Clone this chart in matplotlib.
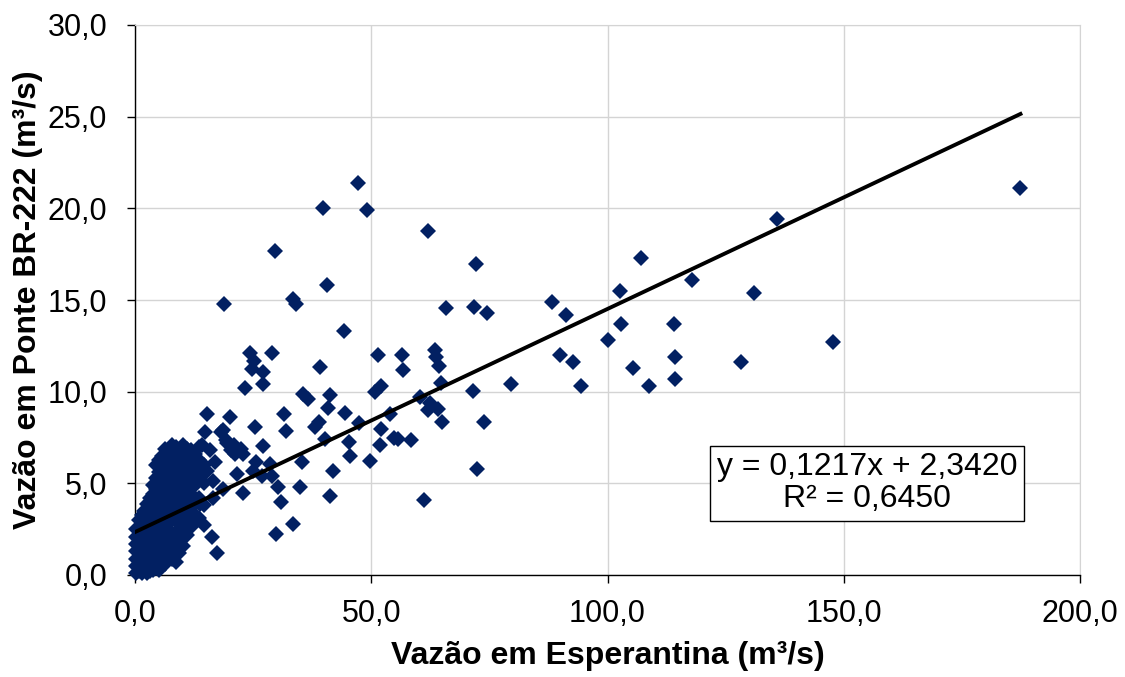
import matplotlib
matplotlib.use('Agg')
import matplotlib.pyplot as plt
import numpy as np

plt.rcParams['font.family'] = ['Liberation Sans', 'DejaVu Sans']

# vazões (m³/s): (Esperantina, Ponte BR-222)
pontos_altos = [
    (187.4, 21.1), (135.8, 19.4), (107.0, 17.3), (117.8, 16.1), (102.6, 15.5),
    (131.0, 15.4), (88.3, 14.9), (91.2, 14.2), (102.9, 13.7), (114.1, 13.7),
    (100.2, 12.8), (147.8, 12.7), (89.9, 12.0), (92.8, 11.6), (114.3, 11.9),
    (105.4, 11.3), (128.2, 11.6), (79.5, 10.4), (94.4, 10.3), (108.7, 10.3),
    (114.3, 10.7),
]

pontos_medios = [
    (47.3, 21.4), (39.8, 20.0), (49.2, 19.9), (62.1, 18.75), (29.7, 17.65),
    (72.2, 16.95), (40.7, 15.8), (18.9, 14.8), (33.4, 15.05), (34.1, 14.8),
    (65.9, 14.55), (71.8, 14.6), (74.4, 14.3), (44.3, 13.3), (24.4, 12.1),
    (25.2, 11.7), (24.7, 11.25), (27.1, 11.05), (27.1, 10.4), (29.1, 12.1),
    (23.3, 10.2), (39.1, 11.35), (51.5, 12.0), (56.6, 12.0), (56.8, 11.2),
    (63.4, 12.3), (63.6, 11.9), (64.3, 11.4), (64.8, 10.5), (71.5, 10.05),
    (50.7, 10.0), (52.0, 10.3), (35.5, 9.85), (36.6, 9.6), (41.2, 9.8),
    (60.3, 9.7), (62.5, 9.4), (62.1, 9.0), (64.2, 9.05), (20.2, 8.6),
    (31.6, 8.8), (40.9, 9.1), (44.5, 8.85), (54.0, 8.8), (25.3, 8.1),
    (32.0, 7.85), (38.1, 8.1), (38.9, 8.35), (47.5, 8.3), (52.0, 7.95),
    (64.9, 8.35), (73.8, 8.35), (54.9, 7.5), (55.6, 7.4), (58.5, 7.35),
    (40.2, 7.4), (45.3, 7.25), (51.8, 7.1), (27.1, 7.05), (18.6, 7.9),
    (19.3, 7.35), (22.5, 6.85), (72.4, 5.8), (61.1, 4.1),
]

pontos_baixos = [
    (15.2, 8.8), (14.8, 7.8), (18.1, 7.8), (45.5, 6.5), (49.7, 6.2),
    (41.9, 5.7), (35.3, 6.15), (22.9, 6.6), (19.4, 7.2), (20.4, 6.8),
    (21.2, 6.6), (20.9, 7.1), (25.7, 6.15), (28.6, 6.05), (25.0, 5.7),
    (21.5, 5.5), (26.8, 5.4), (28.9, 5.4), (30.3, 4.8), (34.9, 4.8),
    (41.3, 4.3), (22.9, 4.5), (31.0, 4.0), (33.5, 2.8), (29.8, 2.25),
    (16.6, 5.15), (18.7, 4.7), (16.2, 2.1), (17.3, 1.2), (14.5, 2.75),
    (14.1, 7.1), (15.9, 6.8), (17.0, 6.15), (15.3, 5.7), (16.6, 4.2),
    (13.75, 3.9),
]

# nuvem densa perto da origem: vazão em Esperantina -> vazões em Ponte BR-222
nuvem_x = [0.3, 0.8, 1.4, 2.0, 2.6, 3.2, 3.8, 4.4, 5.0, 5.7, 6.4,
           7.1, 7.8, 8.6, 9.4, 10.2, 11.0, 11.9, 12.8, 13.6, 14.5]
nuvem_y = [
    [0.1, 0.5, 0.9, 1.3, 1.7, 2.1, 2.5],
    [0.2, 0.6, 1.0, 1.4, 1.8, 2.2, 2.6, 3.0],
    [0.1, 0.5, 0.9, 1.3, 1.7, 2.1, 2.5, 2.9, 3.3],
    [0.3, 0.7, 1.1, 1.5, 1.9, 2.3, 2.7, 3.1, 3.5],
    [0.1, 0.5, 0.9, 1.3, 1.7, 2.1, 2.5, 2.9, 3.4, 3.9],
    [0.2, 0.6, 1.0, 1.4, 1.8, 2.2, 2.7, 3.2, 3.7, 4.2],
    [0.3, 0.8, 1.3, 1.8, 2.3, 2.8, 3.3, 3.8, 4.4, 4.9],
    [0.4, 0.9, 1.4, 1.9, 2.4, 2.9, 3.5, 4.1, 4.7, 5.3, 6.0],
    [0.3, 0.8, 1.4, 2.0, 2.6, 3.2, 3.8, 4.4, 5.0, 5.6, 6.3],
    [0.5, 1.1, 1.7, 2.3, 2.9, 3.5, 4.1, 4.7, 5.3, 5.9, 6.5],
    [0.6, 1.3, 2.0, 2.7, 3.4, 4.1, 4.8, 5.5, 6.2, 6.9],
    [1.0, 1.7, 2.4, 3.1, 3.8, 4.5, 5.2, 5.9, 6.6],
    [0.9, 1.6, 2.3, 3.0, 3.7, 4.4, 5.1, 5.8, 6.5, 7.1],
    [0.7, 1.5, 2.3, 3.1, 3.9, 4.7, 5.5, 6.3, 7.0],
    [1.2, 2.0, 2.8, 3.6, 4.4, 5.2, 6.0, 6.8],
    [1.6, 2.4, 3.2, 4.0, 4.8, 5.6, 6.4, 7.1],
    [2.2, 3.0, 3.8, 4.6, 5.4, 6.2, 6.9],
    [2.6, 3.5, 4.4, 5.2, 6.0, 6.8],
    [2.9, 3.9, 4.9, 5.8, 6.6],
    [3.1, 4.2, 5.3, 6.3, 7.0],
    [3.8, 5.0, 6.0],
]

# reta de tendência (Excel)
coef_a = 0.1217
coef_b = 2.3420
r2 = 0.6450

xticks = [0, 50, 100, 150, 200]
yticks = [0, 5, 10, 15, 20, 25, 30]


def fmt(v, nd):
    return f"{v:.{nd}f}".replace('.', ',')


pares = pontos_altos + pontos_medios + pontos_baixos
x = [p[0] for p in pares]
y = [p[1] for p in pares]
for xc, ys in zip(nuvem_x, nuvem_y):
    x += [xc] * len(ys)
    y += ys
x = np.array(x)
y = np.array(y)

fig = plt.figure(figsize=(11.25, 6.77), dpi=100)
ax = fig.add_axes([135 / 1125, 102 / 677, 945 / 1125, 550 / 677])

grid_c = '#d4d4d4'
ax.set_axisbelow(True)
ax.grid(True, color=grid_c, linewidth=1.0)
for s in ('top', 'right'):
    ax.spines[s].set_color(grid_c)
for s in ('left', 'bottom'):
    ax.spines[s].set_color('black')
    ax.spines[s].set_linewidth(1.0)

ax.plot(x, y, linestyle='none', marker='D', markersize=8.6,
        color='#022062', markeredgewidth=0, clip_on=False, zorder=3)

xf = np.array([0.0, x.max()])
ax.plot(xf, coef_a * xf + coef_b, color='black', linewidth=2.8, zorder=4)

ax.set_xlim(0, 200)
ax.set_ylim(0, 30)
ax.set_xticks(xticks)
ax.set_yticks(yticks)
ax.set_xticklabels([fmt(v, 1) for v in xticks])
ax.set_yticklabels([fmt(v, 1) for v in yticks])
ax.tick_params(axis='both', labelsize=22, length=6, width=1, direction='out')
ax.tick_params(axis='y', pad=14)
ax.tick_params(axis='x', pad=11)

ax.set_xlabel('Vazão em Esperantina (m³/s)', fontsize=23, fontweight='bold', labelpad=9)
ax.set_ylabel('Vazão em Ponte BR-222 (m³/s)', fontsize=23, fontweight='bold', labelpad=3)

ax.text(0.7746, 0.167,
        f"y = {fmt(coef_a, 4)}x + {fmt(coef_b, 4)}\nR² = {fmt(r2, 4)}",
        transform=ax.transAxes, ha='center', va='center', fontsize=23,
        linespacing=1.1, zorder=5,
        bbox=dict(boxstyle='square,pad=0.2', facecolor='white',
                  edgecolor='black', linewidth=1.0))

fig.savefig('out.png', dpi=100)
